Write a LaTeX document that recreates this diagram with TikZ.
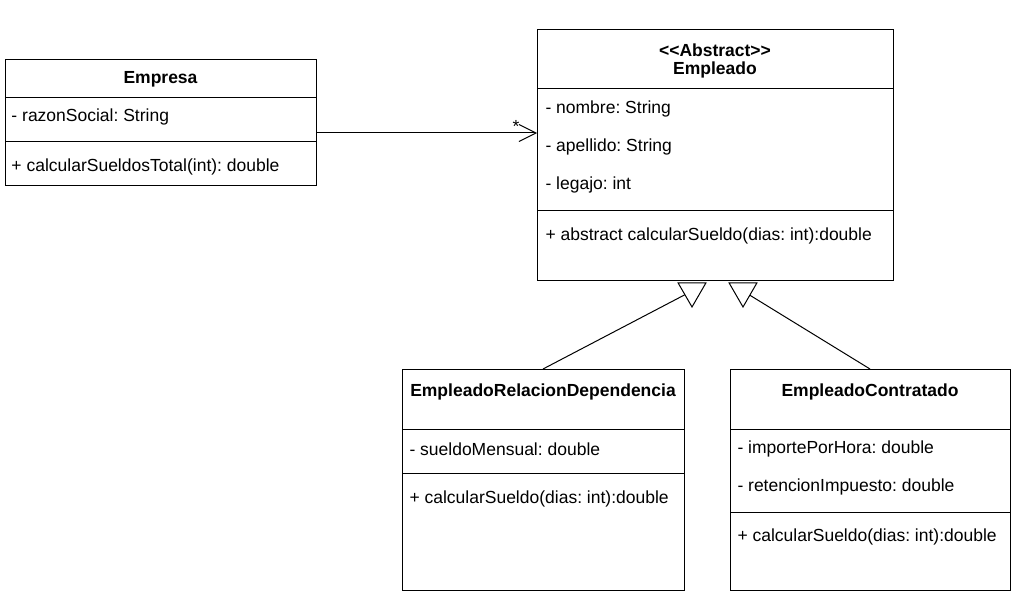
\documentclass[tikz,border=0pt]{standalone}
\usepackage{fontspec}
\setmainfont{Liberation Sans}
\usetikzlibrary{arrows.meta,shapes.geometric}
\frenchspacing

\begin{document}
\begin{tikzpicture}[x=1pt,y=-1pt,line width=1pt,
    caja/.style={draw,inner sep=0pt,outer sep=0pt,anchor=north west},
    attr/.style={inner sep=0pt,anchor=west,font=\fontsize{17.5}{21}\selectfont},
    titulo/.style={inner sep=0pt,font=\fontsize{17.5}{21}\selectfont\bfseries},
    herencia/.style={draw,fill=white,regular polygon,regular polygon sides=3,
      shape border rotate=180,minimum size=32pt,inner sep=0pt,outer sep=0pt}]

  \useasboundingbox[fill=white] (0,0) rectangle (1022,601);

  % Clase Empresa
  \node[caja,minimum width=311pt,minimum height=38pt] (empresaH) at (5,60) {};
  \node[caja,minimum width=311pt,minimum height=44pt] (empresaA) at (5,98) {};
  \node[caja,minimum width=311pt,minimum height=44pt] (empresaM) at (5,142) {};
  \node[titulo] at (empresaH) {Empresa};
  \node[attr] at (11,117) {- razonSocial: String};
  \node[attr] at (11,167) {+ calcularSueldosTotal(int): double};

  % Clase abstracta Empleado
  \node[caja,minimum width=356pt,minimum height=59pt] (empleadoH) at (537,30) {};
  \node[caja,minimum width=356pt,minimum height=122pt] (empleadoA) at (537,89) {};
  \node[caja,minimum width=356pt,minimum height=70pt] (empleadoM) at (537,211) {};
  \node[titulo] at (715,50) {<\kern0pt<Abstract>\kern0pt>};
  \node[titulo] at (715,70) {Empleado};
  \foreach \y/\t in {109/nombre: String, 147/apellido: String, 185/legajo: int}
    \node[attr] at (545,\y) {- \t};
  \node[attr] at (545,236) {+ abstract calcularSueldo(dias: int):double};

  % Clase EmpleadoRelacionDependencia
  \node[caja,minimum width=282pt,minimum height=60pt] (erdH) at (402,369) {};
  \node[caja,minimum width=282pt,minimum height=44pt] (erdA) at (402,429) {};
  \node[caja,minimum width=282pt,minimum height=117pt] (erdM) at (402,473) {};
  \node[titulo] at (543,392) {EmpleadoRelacionDependencia};
  \node[attr] at (409,449) {- sueldoMensual: double};
  \node[attr] at (409,499) {+ calcularSueldo(dias: int):double};

  % Clase EmpleadoContratado
  \node[caja,minimum width=280pt,minimum height=60pt] (ecH) at (730,369) {};
  \node[caja,minimum width=280pt,minimum height=83pt] (ecA) at (730,429) {};
  \node[caja,minimum width=280pt,minimum height=78pt] (ecM) at (730,512) {};
  \node[titulo] at (870,392) {EmpleadoContratado};
  \node[attr] at (737,449) {- importePorHora: double};
  \node[attr] at (737,487) {- retencionImpuesto: double};
  \node[attr] at (737,537) {+ calcularSueldo(dias: int):double};

  % Asociacion Empresa -> Empleado
  \coordinate (origen) at (316,133);
  \draw[-{Straight Barb[length=17pt,width=17pt]}] (origen) -- node[pos=0.905,yshift=7pt,inner sep=0pt,font=\fontsize{17.5}{21}\selectfont] {*} (empleadoA.west |- origen);

  % Herencia
  \node[herencia] (trizq) at (692,291) {};
  \node[herencia] (trder) at (743,291) {};
  \draw (erdH.north) -- (trizq);
  \draw (ecH.north) -- (trder);
\end{tikzpicture}
\end{document}
